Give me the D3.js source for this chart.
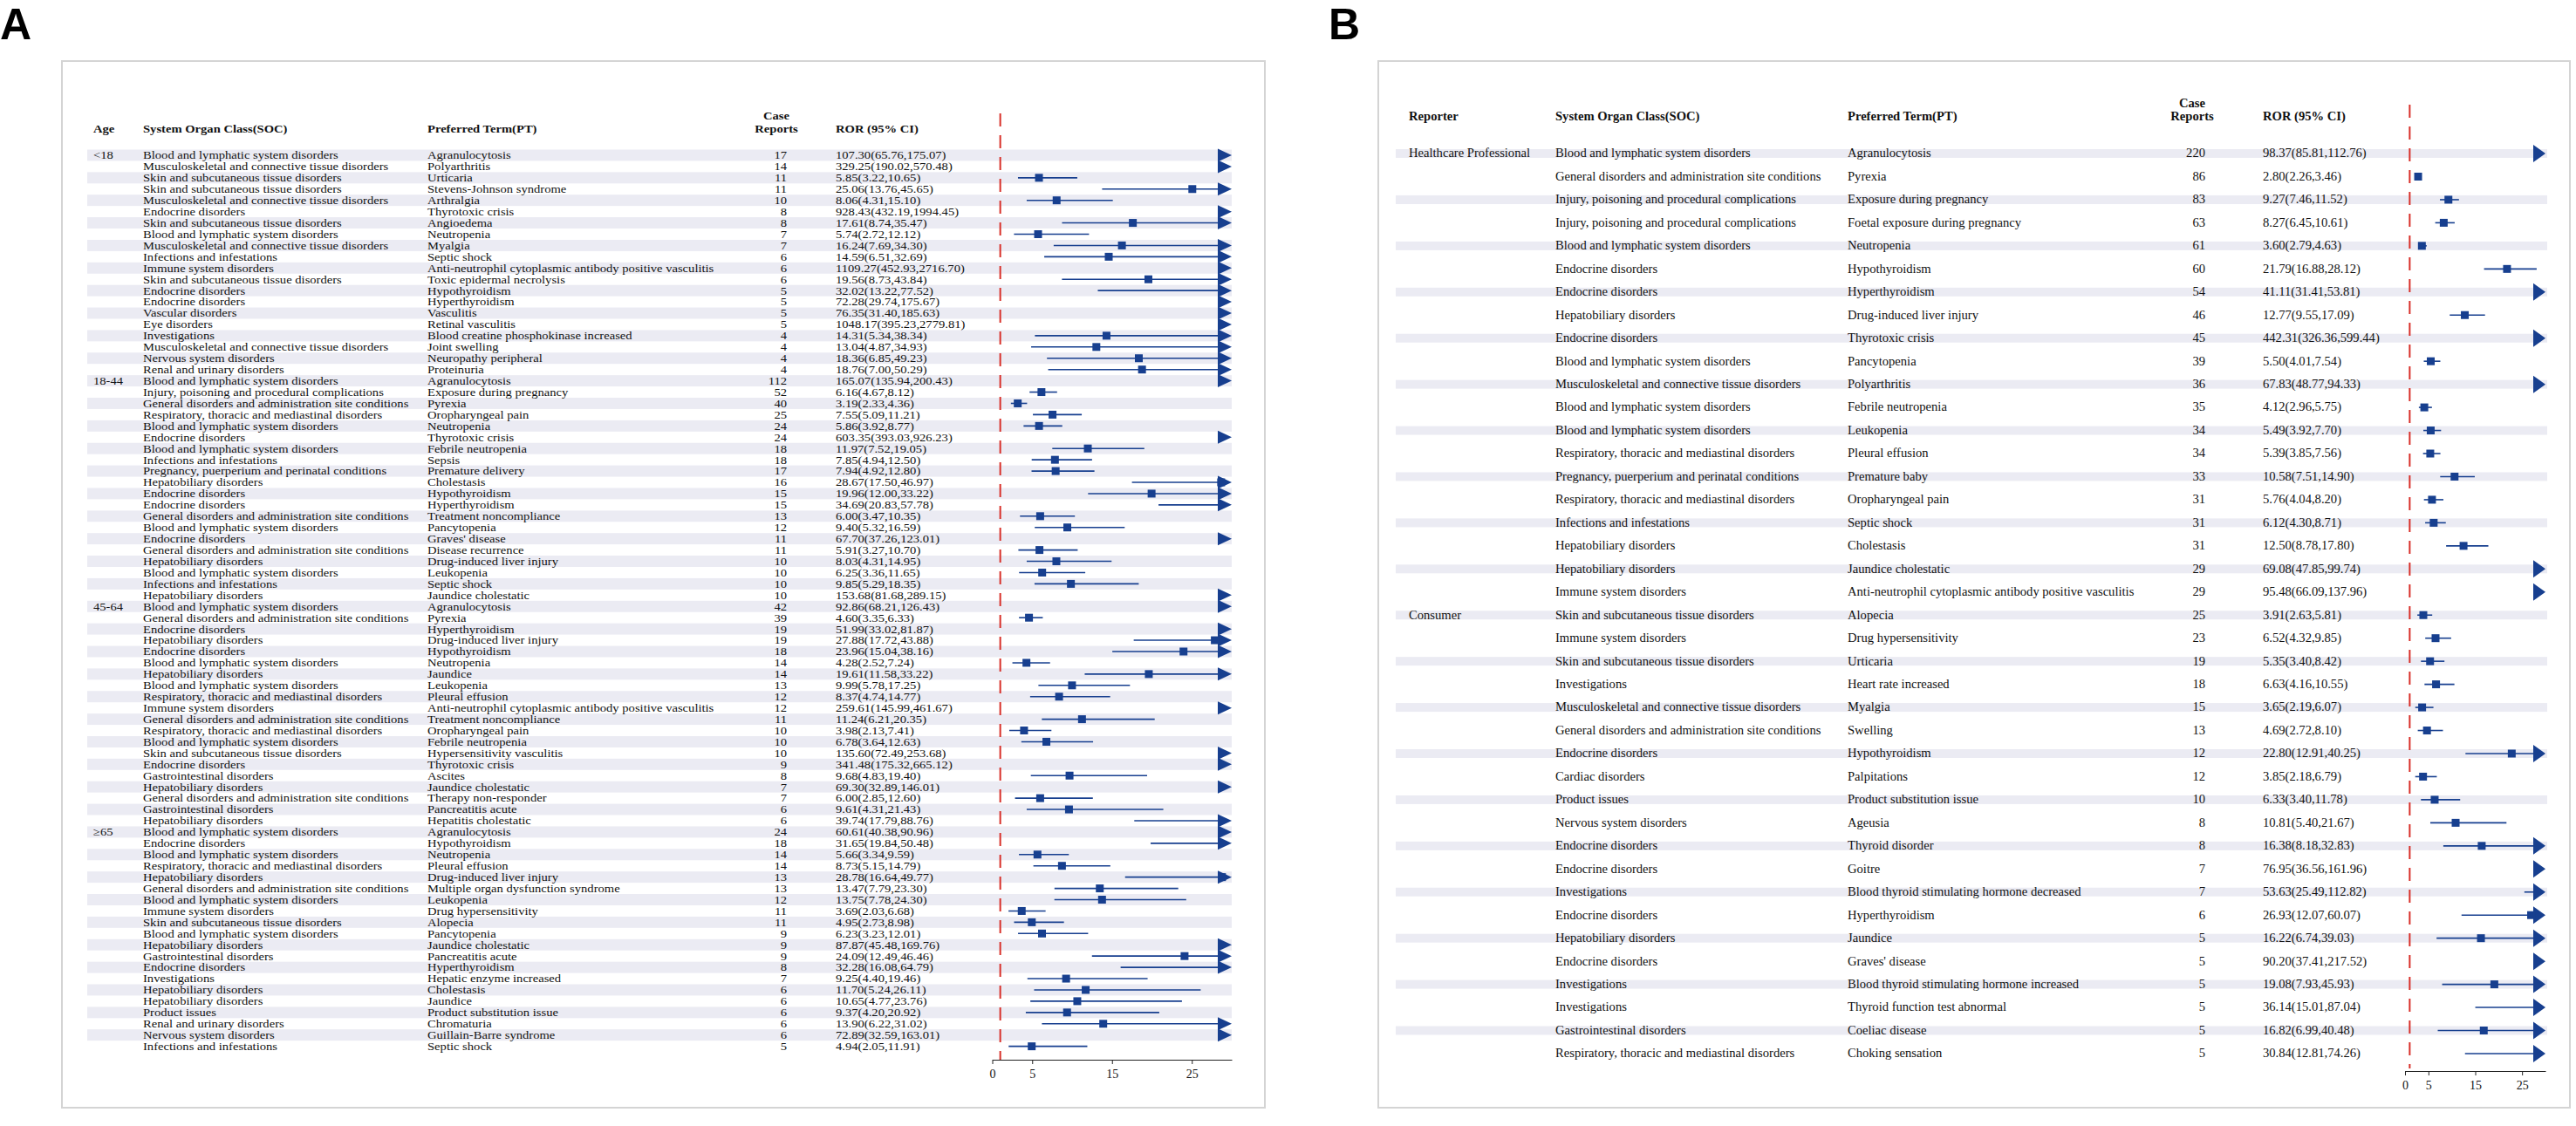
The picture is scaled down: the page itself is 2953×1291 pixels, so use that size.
<!DOCTYPE html>
<html><head><meta charset="utf-8">
<script src="https://cdn.jsdelivr.net/npm/d3@7"></script>
<style>body{margin:0;background:#fff}svg{display:block}text{font-family:"Liberation Serif","Times New Roman",serif;fill:#111}</style>
</head><body><svg id="c" width="2953" height="1291"></svg>
<script>
// ---------- data ----------
const SOC = {B:"Blood and lymphatic system disorders",M:"Musculoskeletal and connective tissue disorders",S:"Skin and subcutaneous tissue disorders",E:"Endocrine disorders",I:"Infections and infestations",Im:"Immune system disorders",V:"Vascular disorders",Ey:"Eye disorders",Inv:"Investigations",N:"Nervous system disorders",R:"Renal and urinary disorders",Inj:"Injury, poisoning and procedural complications",G:"General disorders and administration site conditions",Re:"Respiratory, thoracic and mediastinal disorders",P:"Pregnancy, puerperium and perinatal conditions",H:"Hepatobiliary disorders",Ga:"Gastrointestinal disorders",Pr:"Product issues",C:"Cardiac disorders"};

const groupsA = ["<18","18-44","45-64","\u226565"];
const groupSizeA = [20,20,20,20];
const socA = ["B","M","S","S","M","E","S","B","M","I","Im","S","E","E","V","Ey","Inv","M","N","R",
 "B","Inj","G","Re","B","E","B","I","P","H","E","E","G","B","E","G","H","B","I","H",
 "B","G","E","H","E","B","H","B","Re","Im","G","Re","B","S","E","Ga","H","G","Ga","H",
 "B","E","B","Re","H","G","B","Im","S","B","H","Ga","E","Inv","H","H","Pr","R","N","I"].map(k=>SOC[k]);
const ptA = ["Agranulocytosis","Polyarthritis","Urticaria","Stevens-Johnson syndrome","Arthralgia","Thyrotoxic crisis","Angioedema","Neutropenia","Myalgia","Septic shock","Anti-neutrophil cytoplasmic antibody positive vasculitis","Toxic epidermal necrolysis","Hypothyroidism","Hyperthyroidism","Vasculitis","Retinal vasculitis","Blood creatine phosphokinase increased","Joint swelling","Neuropathy peripheral","Proteinuria",
 "Agranulocytosis","Exposure during pregnancy","Pyrexia","Oropharyngeal pain","Neutropenia","Thyrotoxic crisis","Febrile neutropenia","Sepsis","Premature delivery","Cholestasis","Hypothyroidism","Hyperthyroidism","Treatment noncompliance","Pancytopenia","Graves' disease","Disease recurrence","Drug-induced liver injury","Leukopenia","Septic shock","Jaundice cholestatic",
 "Agranulocytosis","Pyrexia","Hyperthyroidism","Drug-induced liver injury","Hypothyroidism","Neutropenia","Jaundice","Leukopenia","Pleural effusion","Anti-neutrophil cytoplasmic antibody positive vasculitis","Treatment noncompliance","Oropharyngeal pain","Febrile neutropenia","Hypersensitivity vasculitis","Thyrotoxic crisis","Ascites","Jaundice cholestatic","Therapy non-responder","Pancreatitis acute","Hepatitis cholestatic",
 "Agranulocytosis","Hypothyroidism","Neutropenia","Pleural effusion","Drug-induced liver injury","Multiple organ dysfunction syndrome","Leukopenia","Drug hypersensitivity","Alopecia","Pancytopenia","Jaundice cholestatic","Pancreatitis acute","Hyperthyroidism","Hepatic enzyme increased","Cholestasis","Jaundice","Product substitution issue","Chromaturia","Guillain-Barre syndrome","Septic shock"];
const casesA = [17,14,11,11,10,8,8,7,7,6,6,6,5,5,5,5,4,4,4,4,
 112,52,40,25,24,24,18,18,17,16,15,15,13,12,11,11,10,10,10,10,
 42,39,19,19,18,14,14,13,12,12,11,10,10,10,9,8,7,7,6,6,
 24,18,14,14,13,13,12,11,11,9,9,9,8,7,6,6,6,6,6,5];
const rorA = [107.30,329.25,5.85,25.06,8.06,928.43,17.61,5.74,16.24,14.59,1109.27,19.56,32.02,72.28,76.35,1048.17,14.31,13.04,18.36,18.76,
 165.07,6.16,3.19,7.55,5.86,603.35,11.97,7.85,7.94,28.67,19.96,34.69,6.00,9.40,67.70,5.91,8.03,6.25,9.85,153.68,
 92.86,4.60,51.99,27.88,23.96,4.28,19.61,9.99,8.37,259.61,11.24,3.98,6.78,135.60,341.48,9.68,69.30,6.00,9.61,39.74,
 60.61,31.65,5.66,8.73,28.78,13.47,13.75,3.69,4.95,6.23,87.87,24.09,32.28,9.25,11.70,10.65,9.37,13.90,72.89,4.94];
const lowA = [65.76,190.02,3.22,13.76,4.31,432.19,8.74,2.72,7.69,6.51,452.93,8.73,13.22,29.74,31.40,395.23,5.34,4.87,6.85,7.00,
 135.94,4.67,2.33,5.09,3.92,393.03,7.52,4.94,4.92,17.50,12.00,20.83,3.47,5.32,37.26,3.27,4.31,3.36,5.29,81.68,
 68.21,3.35,33.02,17.72,15.04,2.52,11.58,5.78,4.74,145.99,6.21,2.13,3.64,72.49,175.32,4.83,32.89,2.85,4.31,17.79,
 40.38,19.84,3.34,5.15,16.64,7.79,7.78,2.03,2.73,3.23,45.48,12.49,16.08,4.40,5.24,4.77,4.20,6.22,32.59,2.05];
const highA = [175.07,570.48,10.65,45.65,15.10,1994.45,35.47,12.12,34.30,32.69,2716.70,43.84,77.52,175.67,185.63,2779.81,38.34,34.93,49.23,50.29,
 200.43,8.12,4.36,11.21,8.77,926.23,19.05,12.50,12.80,46.97,33.22,57.78,10.35,16.59,123.01,10.70,14.95,11.65,18.35,289.15,
 126.43,6.33,81.87,43.88,38.16,7.24,33.22,17.25,14.77,461.67,20.35,7.41,12.63,253.68,665.12,19.40,146.01,12.60,21.43,88.76,
 90.96,50.48,9.59,14.79,49.77,23.30,24.30,6.68,8.98,12.01,169.76,46.46,64.79,19.46,26.11,23.76,20.92,31.02,163.01,11.91];

const groupsB = ["Healthcare Professional","Consumer"];
const groupSizeB = [20,20];
const socB = ["B","G","Inj","Inj","B","E","E","H","E","B","M","B","B","Re","P","Re","I","H","H","Im",
 "S","Im","S","Inv","M","G","E","C","Pr","N","E","E","Inv","E","H","E","Inv","Inv","Ga","Re"].map(k=>SOC[k]);
const ptB = ["Agranulocytosis","Pyrexia","Exposure during pregnancy","Foetal exposure during pregnancy","Neutropenia","Hypothyroidism","Hyperthyroidism","Drug-induced liver injury","Thyrotoxic crisis","Pancytopenia","Polyarthritis","Febrile neutropenia","Leukopenia","Pleural effusion","Premature baby","Oropharyngeal pain","Septic shock","Cholestasis","Jaundice cholestatic","Anti-neutrophil cytoplasmic antibody positive vasculitis",
 "Alopecia","Drug hypersensitivity","Urticaria","Heart rate increased","Myalgia","Swelling","Hypothyroidism","Palpitations","Product substitution issue","Ageusia","Thyroid disorder","Goitre","Blood thyroid stimulating hormone decreased","Hyperthyroidism","Jaundice","Graves' disease","Blood thyroid stimulating hormone increased","Thyroid function test abnormal","Coeliac disease","Choking sensation"];
const casesB = [220,86,83,63,61,60,54,46,45,39,36,35,34,34,33,31,31,31,29,29,
 25,23,19,18,15,13,12,12,10,8,8,7,7,6,5,5,5,5,5,5];
const rorB = [98.37,2.80,9.27,8.27,3.60,21.79,41.11,12.77,442.31,5.50,67.83,4.12,5.49,5.39,10.58,5.76,6.12,12.50,69.08,95.48,
 3.91,6.52,5.35,6.63,3.65,4.69,22.80,3.85,6.33,10.81,16.38,76.95,53.63,26.93,16.22,90.20,19.08,36.14,16.82,30.84];
const lowB = [85.81,2.26,7.46,6.45,2.79,16.88,31.41,9.55,326.36,4.01,48.77,2.96,3.92,3.85,7.51,4.04,4.30,8.78,47.85,66.09,
 2.63,4.32,3.40,4.16,2.19,2.72,12.91,2.18,3.40,5.40,8.18,36.56,25.49,12.07,6.74,37.41,7.93,15.01,6.99,12.81];
const highB = [112.76,3.46,11.52,10.61,4.63,28.12,53.81,17.09,599.44,7.54,94.33,5.75,7.70,7.56,14.90,8.20,8.71,17.80,99.74,137.96,
 5.81,9.85,8.42,10.55,6.07,8.10,40.25,6.79,11.78,21.67,32.83,161.96,112.82,60.07,39.03,217.52,45.93,87.04,40.48,74.26];

const tickVals = [0,5,15,25];
const xDomain = [0,30];
const headersA = ["Age","System Organ Class(SOC)","Preferred Term(PT)","Case|Reports","ROR (95% CI)"];
const headersB = ["Reporter","System Organ Class(SOC)","Preferred Term(PT)","Case|Reports","ROR (95% CI)"];

// ---------- drawing ----------
const svg = d3.select("#c");
const fmt = v => v.toFixed(2);
const BLUE = "#173f8f", RED = "#d8302a";

function panel(cfg){
  const g = svg.append("g");
  g.append("rect").attr("x",cfg.box[0]).attr("y",cfg.box[1]).attr("width",cfg.box[2]-cfg.box[0]).attr("height",cfg.box[3]-cfg.box[1])
    .attr("fill","#fff").attr("stroke","#d4d4d4").attr("stroke-width",2);
  svg.append("text").attr("x",cfg.label[0]).attr("y",cfg.label[1]).text(cfg.labelText)
    .style("font-family","Liberation Sans, Arial, sans-serif").style("font-weight","bold").style("font-size","50px").style("fill","#000");
  const n = cfg.pt.length;
  const y = d3.scaleBand().domain(d3.range(n)).range(cfg.yRange);
  const x = d3.scaleLinear().domain(xDomain).range(cfg.xRange);
  const bw = y.bandwidth();
  g.selectAll(".st").data(d3.range(n).filter(i=>i%2===0)).join("rect")
    .attr("x",cfg.stripe[0]).attr("width",cfg.stripe[1]-cfg.stripe[0])
    .attr("y",i=>y(i)+bw/2-cfg.stripeH/2).attr("height",cfg.stripeH).attr("fill","#ebebf3");
  const tf = (xx,yy)=>`translate(${xx},${yy}) scale(1,${cfg.sy})`;
  const txt = (xx,yy,s,anchor,bold)=>g.append("text").attr("transform",tf(xx,yy)).attr("text-anchor",anchor||"start")
     .style("font-size",cfg.fs+"px").style("font-weight",bold?"bold":"normal").text(s);
  cfg.headers.forEach((h,k)=>{
    const hx = k===3 ? cfg.caseHead : cfg.cols[k];
    if(h.includes("|")){ const p=h.split("|");
      txt(hx,cfg.headY-cfg.fs*1.0,p[0],"middle",true); txt(hx,cfg.headY,p[1],"middle",true);
    } else txt(hx,cfg.headY,h,"start",true);
  });
  let start=0;
  cfg.groups.forEach((gname,k)=>{ txt(cfg.cols[0],y(start)+bw/2+cfg.fs*0.3,gname); start+=cfg.sizes[k]; });
  for(let i=0;i<n;i++){
    const yy = y(i)+bw/2+cfg.fs*0.3;
    txt(cfg.cols[1],yy,cfg.soc[i]);
    txt(cfg.cols[2],yy,cfg.pt[i]);
    txt(cfg.cols[3],yy,String(cfg.cases[i]),"end");
    txt(cfg.cols[4],yy,`${fmt(cfg.ror[i])}(${fmt(cfg.low[i])},${fmt(cfg.high[i])})`);
  }
  g.append("line").attr("x1",x(1)).attr("x2",x(1)).attr("y1",cfg.refY[0]).attr("y2",cfg.refY[1])
    .attr("stroke",RED).attr("stroke-width",2).attr("stroke-dasharray",cfg.dash);
  const cap = xDomain[1];
  const aw = cfg.arrow[0], ah = cfg.arrow[1];
  for(let i=0;i<n;i++){
    const cy = y(i)+bw/2;
    const lo = cfg.low[i], hi = cfg.high[i], r = cfg.ror[i];
    const over = hi>cap;
    const xr = over ? x(cap)-aw : x(hi);
    if(lo<cap) g.append("line").attr("x1",x(lo)).attr("x2",xr).attr("y1",cy).attr("y2",cy).attr("stroke",BLUE).attr("stroke-width",cfg.lw);
    if(over) g.append("path").attr("d",`M${x(cap)-aw},${cy-ah/2}L${x(cap)},${cy}L${x(cap)-aw},${cy+ah/2}Z`).attr("fill",BLUE);
    if(r<cap-0.5) g.append("rect").attr("x",x(r)-cfg.sq/2).attr("y",cy-cfg.sq/2).attr("width",cfg.sq).attr("height",cfg.sq).attr("fill",BLUE);
  }
  const ax = g.append("g").attr("transform",`translate(0,${cfg.axisY})`)
    .call(d3.axisBottom(x).tickValues(tickVals).tickSize(5).tickSizeOuter(0).tickFormat(d3.format("d")));
  ax.selectAll("text").style("font-size",cfg.tfs+"px").style("font-family","Liberation Serif, serif").attr("dy","0.9em");
  ax.selectAll("path,line").attr("stroke","#222");
}

panel({labelText:"A",label:[0,45],box:[71,70,1450,1270],
  groups:groupsA,sizes:groupSizeA,soc:socA,pt:ptA,cases:casesA,ror:rorA,low:lowA,high:highA,headers:headersA,
  yRange:[171.5,1206.1],xRange:[1137.5,1412],stripe:[100,1412],stripeH:12.93,
  cols:[107,164,490,902,958],caseHead:890,fs:14.6,sy:0.86,headY:152,
  refY:[130,1215],dash:"15,10",arrow:[16,15],sq:9,lw:1.6,axisY:1215,tfs:14});

panel({labelText:"B",label:[1523,45],box:[1580,70,2946,1270],
  groups:groupsB,sizes:groupSizeB,soc:socB,pt:ptB,cases:casesB,ror:rorB,low:lowB,high:highB,headers:headersB,
  yRange:[162.8,1221.2],xRange:[2757,2918],stripe:[1600,2920],stripeH:10,
  cols:[1615,1783,2118,2528,2594],caseHead:2513,fs:14.6,sy:1,headY:138,
  refY:[120,1225],dash:"15,10",arrow:[14,20],sq:9,lw:1.6,axisY:1228,tfs:14});
</script></body></html>
